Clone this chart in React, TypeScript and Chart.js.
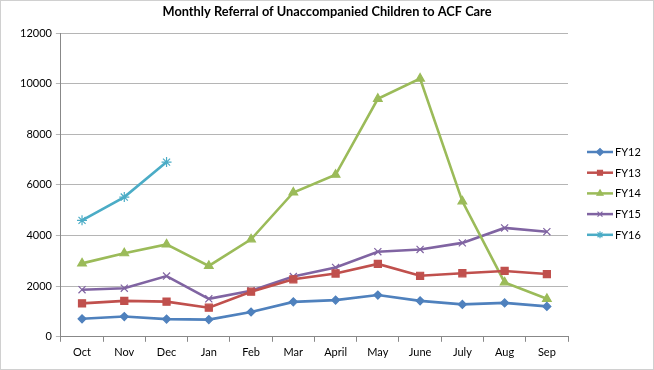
import React, { useEffect, useRef } from 'react';
import { Chart, registerables } from 'chart.js';
import { drawPoint } from 'chart.js/helpers';
Chart.register(...registerables);

const months = ['Oct', 'Nov', 'Dec', 'Jan', 'Feb', 'Mar', 'April', 'May', 'June', 'July', 'Aug', 'Sep'];
const fy12 = [710, 800, 700, 680, 980, 1380, 1450, 1650, 1420, 1280, 1340, 1200];
const fy13 = [1320, 1420, 1390, 1150, 1780, 2270, 2500, 2880, 2410, 2510, 2600, 2480];
const fy14 = [2900, 3300, 3650, 2800, 3850, 5700, 6400, 9400, 10200, 5350, 2150, 1500];
const fy15 = [1860, 1920, 2400, 1500, 1820, 2380, 2740, 3360, 3450, 3710, 4300, 4150];
const fy16 = [4600, 5520, 6900];
const seriesLabels = ['FY12', 'FY13', 'FY14', 'FY15', 'FY16'];
const yTicks = [0, 2000, 4000, 6000, 8000, 10000, 12000];
const titleText = 'Monthly Referral of Unaccompanied Children to ACF Care';

const FONT = "'Lato', 'Liberation Sans', sans-serif";

const sideLegend = {
  id: 'sideLegend',
  afterDraw(chart: any) {
    const ctx = chart.ctx;
    ctx.save();
    ctx.fillStyle = '#000';
    ctx.font = `bold 12.8px ${FONT}`;
    ctx.textAlign = 'center';
    ctx.textBaseline = 'middle';
    ctx.fillText(titleText, chart.width / 2, 11);
    ctx.restore();

    const x0 = 586;
    const y0 = 151;
    const step = 20.7;
    chart.data.datasets.forEach((ds: any, i: number) => {
      const y = y0 + i * step;
      ctx.save();
      ctx.strokeStyle = ds.borderColor;
      ctx.fillStyle = ds.pointBackgroundColor;
      ctx.lineWidth = 2.5;
      ctx.beginPath();
      ctx.moveTo(x0, y);
      ctx.lineTo(x0 + 26, y);
      ctx.stroke();
      ctx.lineWidth = 1.2;
      drawPoint(ctx, { pointStyle: ds.pointStyle, radius: 3.5, borderWidth: 1.2, rotation: 0 }, x0 + 13, y);
      ctx.fillStyle = '#000';
      ctx.font = `11px ${FONT}`;
      ctx.textBaseline = 'middle';
      ctx.textAlign = 'left';
      ctx.fillText(ds.label, x0 + 28, y + 0.5);
      ctx.restore();
    });
  },
};

export default function App() {
  const ref = useRef<HTMLCanvasElement>(null);
  useEffect(() => {
    document.body.style.margin = '0';
    const colors = ['#4F81BD', '#C0504D', '#9BBB59', '#8064A2', '#4BACC6'];
    const styles = ['rectRot', 'rect', 'triangle', 'crossRot', 'star'];
    const radii = [4, 5, 5, 5, 5];
    const data = [fy12, fy13, fy14, fy15, fy16];
    const chart = new Chart(ref.current!, {
      type: 'line',
      data: {
        labels: months,
        datasets: data.map((d, i) => ({
          label: seriesLabels[i],
          data: d,
          borderColor: colors[i],
          backgroundColor: colors[i],
          pointBackgroundColor: colors[i],
          pointBorderColor: colors[i],
          pointStyle: styles[i] as any,
          pointRadius: radii[i],
          pointBorderWidth: 1.2,
          borderWidth: 2.6,
          tension: 0,
        })),
      },
      options: {
        animation: false,
        responsive: false,
        maintainAspectRatio: false,
        layout: { padding: { left: 15, right: 85, top: 32, bottom: 6 } },
        plugins: {
          legend: { display: false },
          tooltip: { enabled: false },
          title: { display: false },
        },
        scales: {
          x: {
            offset: true,
            grid: {
              offset: true,
              drawOnChartArea: false,
              drawTicks: true,
              tickLength: 5,
              color: '#888',
            },
            border: { color: '#888', width: 1 },
            ticks: { color: '#000', font: { family: FONT, size: 11 }, padding: 4, maxRotation: 0 },
          },
          y: {
            min: 0,
            max: 12000,
            afterBuildTicks: (axis: any) => {
              axis.ticks = yTicks.map((v) => ({ value: v }));
            },
            grid: { color: '#b5b5b5', tickLength: 5, lineWidth: 1 },
            border: { color: '#888', width: 1 },
            ticks: {
              color: '#000',
              font: { family: FONT, size: 11 },
              padding: 4,
              callback: (v: any) => String(v),
            },
          },
        },
      },
      plugins: [sideLegend],
    });
    return () => chart.destroy();
  }, []);
  return (
    <div style={{ width: 652, height: 368, border: '1px solid #d0d0d0', background: '#fff' }}>
      <canvas ref={ref} width={652} height={368} />
    </div>
  );
}
